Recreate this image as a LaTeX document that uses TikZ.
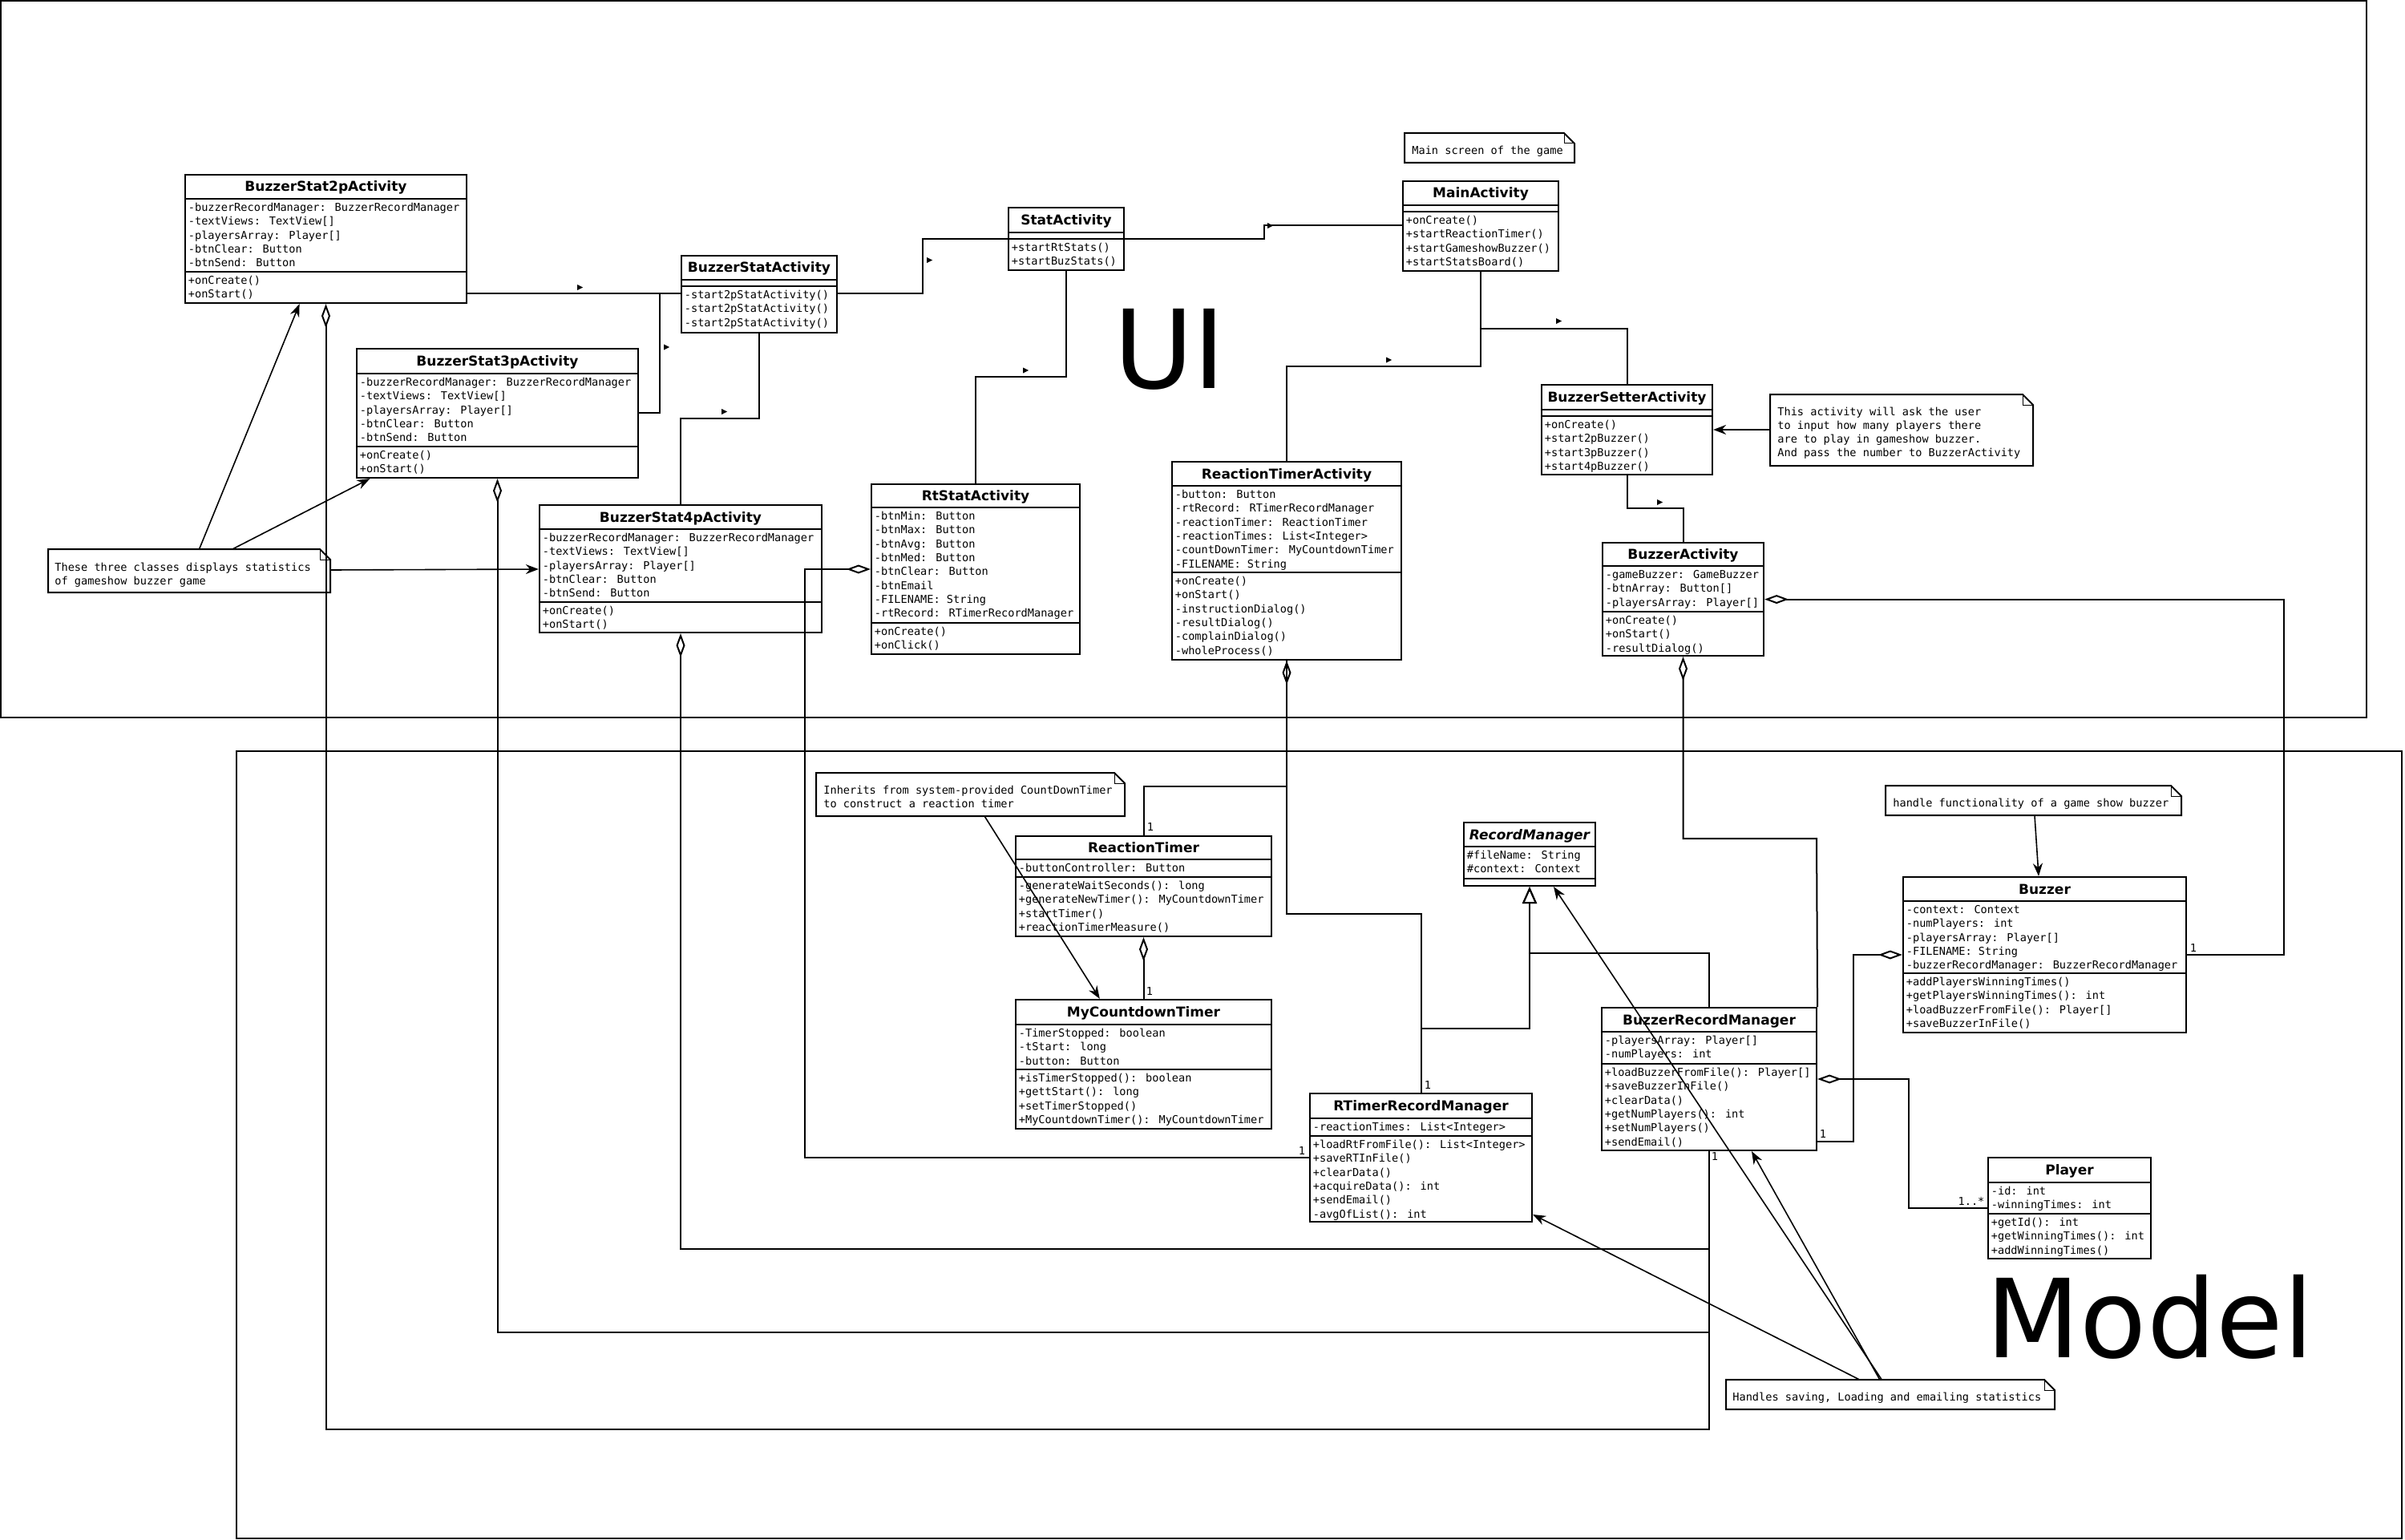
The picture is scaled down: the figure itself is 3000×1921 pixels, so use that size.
\documentclass[tikz,border=0pt]{standalone}
\usepackage{fontspec}
\setmainfont{DejaVu Sans}
\newfontfamily\monof{DejaVu Sans Mono}
\usetikzlibrary{arrows.meta,fit}

\tikzset{
  clsbox/.style={draw, line width=1.1pt, inner sep=0pt},
  sepline/.style={line width=1.1pt},
  ttl/.style={font=\fontsize{8.5pt}{10pt}\selectfont\bfseries, inner sep=0pt},
  txt/.style={font=\monof\fontsize{6.8pt}{8.6pt}\selectfont, inner sep=0pt},
  notebox/.style={line width=1pt},
  foldline/.style={line width=0.5pt},
  conn/.style={line width=1pt},
  notecon/.style={line width=0.8pt, -{Stealth[length=8pt,width=6pt]}},
  agg/.style={conn, {Diamond[open,length=15pt,width=5.5pt]}-},
  gen/.style={conn, -{Triangle[open,length=10.5pt,width=9pt]}},
  mult/.style={txt, anchor=center},
  frame/.style={draw, line width=1pt, inner sep=0pt},
  bigtxt/.style={font=\fontsize{68pt}{80pt}\selectfont, inner sep=0pt},
}

% name, left, top, right, bottom, sep1, sep2, title
\newcommand\umlbox[8]{%
  \node[clsbox, fit={(#2,#3) (#4,#5)}] (#1) {};
  \draw[sepline] (#2,#6) -- (#4,#6);
  \draw[sepline] (#2,#7) -- (#4,#7);
  \node[ttl, anchor=base] (#1-t) at ({(#2+#4)/2},{(#3+#6)/2+6}) {#8};
}
% prefix, left, separator y, list
\newcommand\umlrows[4]{%
  \foreach \t [count=\i from 0] in {#4} {\node[txt, anchor=base west] (#1-\i) at (#2+3.5,#3+15.5+\i*17.3) {\t};}
}
% name, left, top, right, bottom
\newcommand\umlnote[5]{%
  \draw[notebox] (#2,#3) -- ({#4-13},#3) -- (#4,{#3+13}) -- (#4,#5) -- (#2,#5) -- cycle;
  \draw[foldline] ({#4-13},#3) -- ({#4-13},{#3+13}) -- (#4,{#3+13});
  \node[inner sep=0pt, fit={(#2,#3) (#4,#5)}] (#1) {};
}
% prefix, x, first baseline, spacing, list
\newcommand\notetext[5]{%
  \foreach \t [count=\i from 0] in {#5} {\node[txt, anchor=base west] (#1-\i) at (#2,#3+\i*#4) {\t};}
}
\newcommand\dirmark[2]{\fill (#1,#2) -- ++(7,3.5) -- ++(-7,3.5) -- cycle;}

\begin{document}
\begin{tikzpicture}[x=0.5pt,y=-0.5pt]
\useasboundingbox (0,0) rectangle (3000,1921);

% package frames and labels
\node[frame, fit={(1,1) (2952,895)}] (uiframe) {};
\node[frame, fit={(295,937) (2996,1919)}] (modelframe) {};
\node[bigtxt, anchor=base west] (uilbl) at (1389,484) {UI};
\node[bigtxt, anchor=base west] (modellbl) at (2477,1693) {Model};

% ---------------- classes (UI) ----------------
\umlbox{bs2}{231}{218}{582}{378}{248}{339}{BuzzerStat2pActivity}
\umlrows{bs2a}{231}{248}{-buzzerRecordManager: BuzzerRecordManager,-textViews: TextView[],-playersArray: Player[],-btnClear: Button,-btnSend: Button}
\umlrows{bs2o}{231}{339}{+onCreate(),+onStart()}

\umlbox{bsa}{850}{319}{1044}{415}{349}{357}{BuzzerStatActivity}
\umlrows{bsao}{850}{357}{-start2pStatActivity(),-start2pStatActivity(),-start2pStatActivity()}

\umlbox{bs3}{445}{435}{796}{596}{466}{557}{BuzzerStat3pActivity}
\umlrows{bs3a}{445}{466}{-buzzerRecordManager: BuzzerRecordManager,-textViews: TextView[],-playersArray: Player[],-btnClear: Button,-btnSend: Button}
\umlrows{bs3o}{445}{557}{+onCreate(),+onStart()}

\umlbox{bs4}{673}{630}{1025}{789}{660}{751}{BuzzerStat4pActivity}
\umlrows{bs4a}{673}{660}{-buzzerRecordManager: BuzzerRecordManager,-textViews: TextView[],-playersArray: Player[],-btnClear: Button,-btnSend: Button}
\umlrows{bs4o}{673}{751}{+onCreate(),+onStart()}

\umlbox{rts}{1087}{604}{1347}{816}{633}{777}{RtStatActivity}
\umlrows{rtsa}{1087}{633}{-btnMin: Button,-btnMax: Button,-btnAvg: Button,-btnMed: Button,-btnClear: Button,-btnEmail,-FILENAME: String,-rtRecord: RTimerRecordManager}
\umlrows{rtso}{1087}{777}{+onCreate(),+onClick()}

\umlbox{sta}{1258}{259}{1402}{337}{290}{298}{StatActivity}
\umlrows{stao}{1258}{298}{+startRtStats(),+startBuzStats()}

\umlbox{main}{1750}{226}{1944}{338}{256}{264}{MainActivity}
\umlrows{maino}{1750}{264}{+onCreate(),+startReactionTimer(),+startGameshowBuzzer(),+startStatsBoard()}

\umlbox{rta}{1462}{576}{1748}{823}{606}{714}{ReactionTimerActivity}
\umlrows{rtaa}{1462}{606}{-button: Button,-rtRecord: RTimerRecordManager,-reactionTimer: ReactionTimer,-reactionTimes: List<Integer>,-countDownTimer: MyCountdownTimer,-FILENAME: String}
\umlrows{rtao}{1462}{714}{+onCreate(),+onStart(),-instructionDialog(),-resultDialog(),-complainDialog(),-wholeProcess()}

\umlbox{bset}{1923}{480}{2136}{592}{511}{519}{BuzzerSetterActivity}
\umlrows{bseto}{1923}{519}{+onCreate(),+start2pBuzzer(),+start3pBuzzer(),+start4pBuzzer()}

\umlbox{bact}{1999}{677}{2200}{818}{706}{763}{BuzzerActivity}
\umlrows{bacta}{1999}{706}{-gameBuzzer: GameBuzzer,-btnArray: Button[],-playersArray: Player[]}
\umlrows{bacto}{1999}{763}{+onCreate(),+onStart(),-resultDialog()}

% ---------------- classes (Model) ----------------
\umlbox{rt}{1267}{1043}{1586}{1168}{1072}{1094}{ReactionTimer}
\umlrows{rta1}{1267}{1072}{-buttonController: Button}
\umlrows{rto}{1267}{1094}{-generateWaitSeconds(): long,+generateNewTimer(): MyCountdownTimer,+startTimer(),+reactionTimerMeasure()}

\umlbox{mct}{1267}{1247}{1586}{1408}{1278}{1334}{MyCountdownTimer}
\umlrows{mcta}{1267}{1278}{-TimerStopped: boolean,-tStart: long,-button: Button}
\umlrows{mcto}{1267}{1334}{+isTimerStopped(): boolean,+gettStart(): long,+setTimerStopped(),+MyCountdownTimer(): MyCountdownTimer}

\umlbox{rm}{1826}{1026}{1990}{1105}{1056}{1096}{\itshape RecordManager}
\umlrows{rma}{1826}{1056}{\#fileName: String,\#context: Context}

\umlbox{rtrm}{1634}{1364}{1911}{1524}{1395}{1417}{RTimerRecordManager}
\umlrows{rtrma}{1634}{1395}{-reactionTimes: List<Integer>}
\umlrows{rtrmo}{1634}{1417}{+loadRtFromFile(): List<Integer>,+saveRTInFile(),+clearData(),+acquireData(): int,+sendEmail(),-avgOfList(): int}

\umlbox{brm}{1998}{1257}{2266}{1435}{1287}{1327}{BuzzerRecordManager}
\umlrows{brma}{1998}{1287}{-playersArray: Player[],-numPlayers: int}
\umlrows{brmo}{1998}{1327}{+loadBuzzerFromFile(): Player[],+saveBuzzerInFile(),+clearData(),+getNumPlayers(): int,+setNumPlayers(),+sendEmail()}

\umlbox{buz}{2374}{1094}{2727}{1288}{1124}{1214}{Buzzer}
\umlrows{buza}{2374}{1124}{-context: Context,-numPlayers: int,-playersArray: Player[],-FILENAME: String,-buzzerRecordManager: BuzzerRecordManager}
\umlrows{buzo}{2374}{1214}{+addPlayersWinningTimes(),+getPlayersWinningTimes(): int,+loadBuzzerFromFile(): Player[],+saveBuzzerInFile()}

\umlbox{pl}{2480}{1444}{2683}{1570}{1475}{1514}{Player}
\umlrows{pla}{2480}{1475}{-id: int,-winningTimes: int}
\umlrows{plo}{2480}{1514}{+getId(): int,+getWinningTimes(): int,+addWinningTimes()}

% ---------------- notes ----------------
\umlnote{n1}{1752}{166}{1964}{203}
\notetext{n1t}{1761}{192.8}{17.3}{Main screen of the game}
\umlnote{n2}{2208}{492}{2536}{581}
\notetext{n2t}{2217}{518}{17.3}{This activity will ask the user,to input how many players there,are to play in gameshow buzzer.,And pass the number to BuzzerActivity}
\umlnote{n3}{60}{685}{412}{739}
\notetext{n3t}{68}{712.8}{17}{These three classes displays statistics,of gameshow buzzer game}
\umlnote{n4}{1018}{964}{1403}{1018}
\notetext{n4t}{1027}{990.4}{17.2}{Inherits from system-provided CountDownTimer,to construct a reaction timer}
\umlnote{n5}{2352}{980}{2721}{1017}
\notetext{n5t}{2361}{1006.5}{17.3}{handle functionality of a game show buzzer}
\umlnote{n6}{2153}{1721}{2563}{1758}
\notetext{n6t}{2161}{1747.8}{17.3}{{Handles saving, Loading and emailing statistics}}

% ---------------- UI navigation connectors ----------------
\draw[conn] (bs2.east |- 0,366.5) -- (bsa.west |- 0,366.5);
\draw[conn] (bs3.east |- 0,515) -- (823.4,515) -- (823.4,366.5) -- (bsa.west |- 0,366.5);
\draw[conn] (bs4.north) -- (849,521.7) -- (947,521.7) -- (bsa.south);
\draw[conn] (bsa.east |- 0,366.5) -- (1150.6,366.5) -- (1150.6,298) -- (sta.west |- 0,298);
\draw[conn] (sta.east |- 0,298) -- (1576.6,298) -- (1576.6,281.3) -- (main.west |- 0,281.3);
\draw[conn] (sta.south) -- (1330,470.3) -- (1217,470.3) -- (rts.north);
\draw[conn] (main.south) -- (1847,457) -- (1605,457) -- (rta.north);
\draw[conn] (main.south) -- (1847,409.5) -- (2029.5,409.5) -- (bset.north);
\draw[conn] (bset.south) -- (2029.5,634.4) -- (2099.5,634.4) -- (bact.north);

\dirmark{720}{355}
\dirmark{828}{429.5}
\dirmark{900}{510}
\dirmark{1156}{321}
\dirmark{1581}{278}
\dirmark{1276}{458.5}
\dirmark{1729}{445.5}
\dirmark{1941}{397}
\dirmark{2067}{623}

% ---------------- note connectors ----------------
\draw[notecon] (n2.west |- 0,536) -- (bset.east |- 0,536);
\draw[notecon] (n3.north -| 248.7,0) -- (bs2.south -| 373.6,0);
\draw[notecon] (n3.north -| 290.7,0) -- (bs3.south -| 461.4,0);
\draw[notecon] (n3.east |- 0,711) -- (bs4.west |- 0,710);
\draw[notecon] (n4.south -| 1228.3,0) -- (mct.north -| 1371.8,0);
\draw[notecon] (n5.south -| 2538,0) -- (buz.north -| 2543,0);
\draw[notecon] (n6.north -| 2347,0) -- (rm.south -| 1938,0);
\draw[notecon] (n6.north -| 2344.6,0) -- (brm.south -| 2185,0);
\draw[notecon] (n6.north -| 2318.8,0) -- (rtrm.east |- 0,1515);

% ---------------- aggregations ----------------
\draw[agg] (bs2.south) -- (406.5,1783) -- (2132,1783) -- (brm.south);
\draw[agg] (bs3.south) -- (620.5,1662) -- (2132,1662) -- (brm.south);
\draw[agg] (bs4.south) -- (849,1558) -- (2132,1558) -- (brm.south);
\draw[agg] (rts.west |- 0,710) -- (1004.4,710) -- (1004.4,1444.4) -- (rtrm.west |- 0,1444.4);
\draw[agg] (rta.south) -- (1605,1140) -- (1772.5,1140) -- (rtrm.north);
\draw[conn] (rta.south) -- (1605,981.3) -- (1426.5,981.3) -- (rt.north);
\draw[agg] (bact.south) -- (2099.5,1046) -- (2266,1046) -- (brm.north east);
\draw[agg] (bact.east |- 0,747.6) -- (2849,747.6) -- (2849,1190.7) -- (buz.east |- 0,1190.7);
\draw[agg] (buz.west |- 0,1191) -- (2312,1191) -- (2312,1423.6) -- (brm.east |- 0,1423.6);
\draw[agg] (brm.east |- 0,1346) -- (2380.6,1346) -- (2380.6,1506.5) -- (pl.west |- 0,1506.5);
\draw[agg] (rt.south) -- (mct.north);

% ---------------- generalizations ----------------
\draw[gen] (rtrm.north) -- (1772.5,1282.7) -- (1908,1282.7) -- (rm.south);
\draw[gen] (brm.north) -- (2132,1189) -- (1908,1189) -- (rm.south);

% ---------------- multiplicities ----------------
\node[mult] (m1) at (2139,1443) {1};
\node[mult] (m2) at (1624,1436) {1};
\node[mult] (m3) at (1781,1354) {1};
\node[mult] (m4) at (1435,1032) {1};
\node[mult] (m5) at (1434,1237) {1};
\node[mult] (m6) at (2736,1183) {1};
\node[mult] (m7) at (2274,1415) {1};
\node[mult] (m8) at (2459,1498) {1..*};
\end{tikzpicture}
\end{document}
